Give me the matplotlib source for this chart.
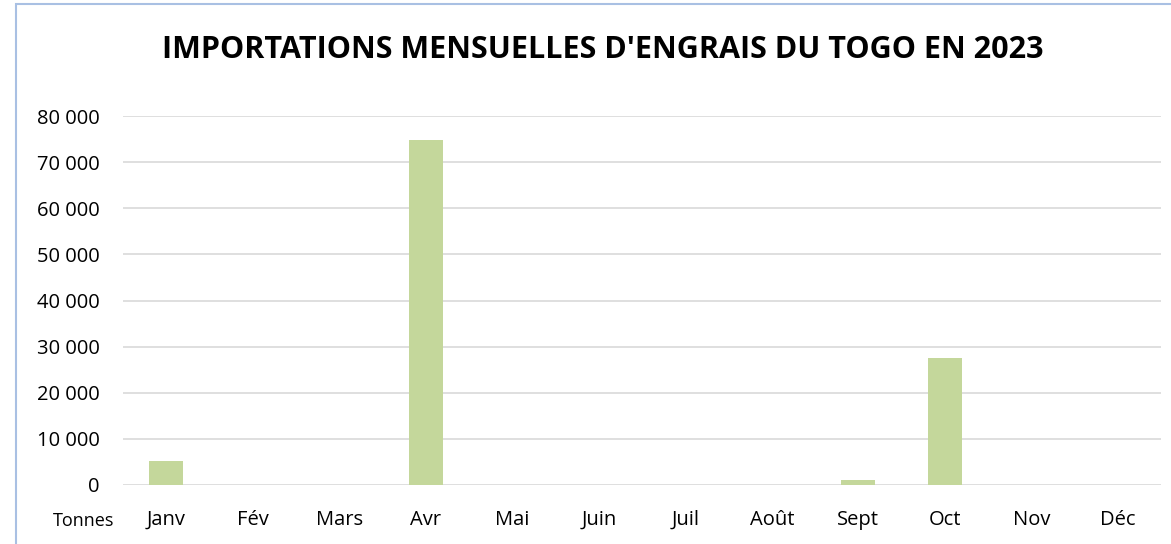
import matplotlib.pyplot as plt
from matplotlib.patches import Rectangle
from matplotlib.ticker import FuncFormatter

# Données (tonnes)
mois = ['Janv', 'Fév', 'Mars', 'Avr', 'Mai', 'Juin', 'Juil', 'Août', 'Sept', 'Oct', 'Nov', 'Déc']
importations = [5200, 0, 0, 74800, 0, 0, 0, 0, 1100, 27500, 0, 0]
graduations = [0, 10000, 20000, 30000, 40000, 50000, 60000, 70000, 80000]

W, H = 1171, 544
fig = plt.figure(figsize=(W / 100, H / 100), dpi=100)
ax = fig.add_axes([123 / W, 1 - 485 / H, (1161 - 123) / W, (485 - 116) / H])

x = range(len(mois))
ax.bar(x, importations, width=0.39, color='#C4D79B', zorder=3)

ax.set_xlim(-0.5, len(mois) - 0.5)
ax.set_ylim(0, 80000)
ax.set_yticks(graduations)
ax.yaxis.set_major_formatter(FuncFormatter(lambda v, p: f'{int(v):,}'.replace(',', ' ')))
ax.set_xticks(list(x))
ax.set_xticklabels(mois)

ax.grid(axis='y', color='#D9D9D9', linewidth=1.2, zorder=0)
for s in ax.spines.values():
    s.set_visible(False)
ax.tick_params(length=0, labelsize=14.5, colors='black')
ax.tick_params(axis='y', pad=17)
ax.tick_params(axis='x', pad=18)
for lab in ax.get_xticklabels() + ax.get_yticklabels():
    lab.set_fontfamily('Open Sans')

fig.text(84 / W, 1 - 521 / H, 'Tonnes', ha='center', va='center',
         fontsize=13, family='Open Sans')
fig.text(603 / W, 1 - 50 / H, "IMPORTATIONS MENSUELLES D'ENGRAIS DU TOGO EN 2023",
         ha='center', va='center', fontsize=22, fontweight='bold', family='Open Sans')

# cadre du graphique
fig.add_artist(Rectangle((16 / W, -0.1), 1.2, 1 - 4 / H + 0.1, transform=fig.transFigure,
                         fill=False, edgecolor='#A9C0E3', linewidth=1.5))

fig.savefig('out.png', dpi=100)
